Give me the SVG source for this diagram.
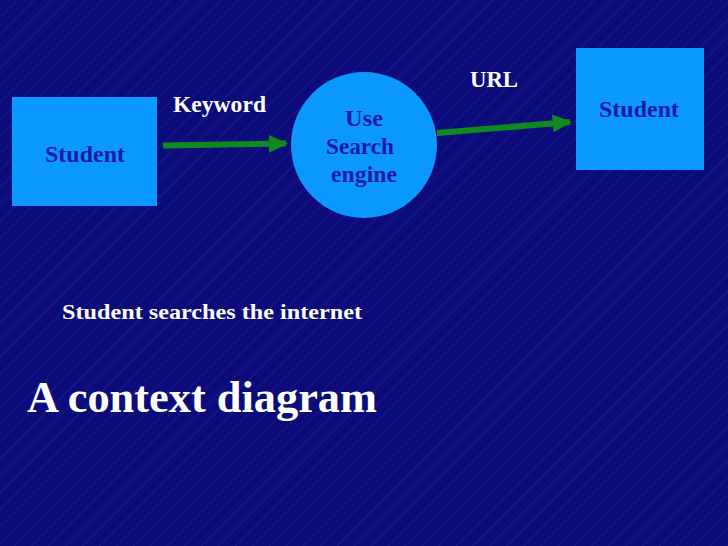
<svg xmlns="http://www.w3.org/2000/svg" width="728" height="546" viewBox="0 0 728 546">
  <defs>
    <pattern id="stripes" width="12" height="12" patternUnits="userSpaceOnUse" patternTransform="rotate(-45)">
      <line x1="0" y1="0" x2="12" y2="0" stroke="#6a6ae0" stroke-width="0.7" stroke-opacity="0.4"/>
    </pattern>
    <marker id="arrow" viewBox="0 0 10 10" refX="9" refY="5" markerWidth="3.2" markerHeight="3" orient="auto" markerUnits="strokeWidth" preserveAspectRatio="none">
      <path d="M0,0 L10,5 L0,10 z" fill="#0e8a1e"/>
    </marker>
  </defs>
  <style>
    .node { fill: #0a98ff; }
    .ntext { font-family: "Liberation Serif", "Times New Roman", serif; font-weight: bold; font-size: 23px; fill: #1a1aa6; }
    .label { font-family: "Liberation Serif", "Times New Roman", serif; font-weight: bold; fill: #ffffff; }
    .flow { stroke: #0e8a1e; stroke-width: 6; fill: none; marker-end: url(#arrow); }
  </style>
  <rect x="0" y="0" width="728" height="546" fill="#0b0b7a"/>
  <rect x="0" y="0" width="728" height="546" fill="url(#stripes)"/>

  <g id="student-left">
    <rect class="node" x="12" y="97" width="145" height="109"/>
    <text class="ntext" x="45" y="162" textLength="80" lengthAdjust="spacingAndGlyphs">Student</text>
  </g>
  <g id="search-engine">
    <circle class="node" cx="364" cy="145" r="73"/>
    <text class="ntext" x="345" y="126" textLength="38" lengthAdjust="spacingAndGlyphs">Use</text>
    <text class="ntext" x="326" y="154" textLength="68" lengthAdjust="spacingAndGlyphs">Search</text>
    <text class="ntext" x="331" y="182" textLength="66" lengthAdjust="spacingAndGlyphs">engine</text>
  </g>
  <g id="student-right">
    <rect class="node" x="576" y="48" width="128" height="122"/>
    <text class="ntext" x="599" y="117" textLength="80" lengthAdjust="spacingAndGlyphs">Student</text>
  </g>

  <g id="connectors">
    <line class="flow" x1="163" y1="145.5" x2="286" y2="143.5"/>
    <line class="flow" x1="437" y1="133" x2="570" y2="122"/>
    <text class="label" x="173" y="112" font-size="23" textLength="93" lengthAdjust="spacingAndGlyphs">Keyword</text>
    <text class="label" x="470" y="87" font-size="23" textLength="48" lengthAdjust="spacingAndGlyphs">URL</text>
  </g>

  <text class="label" x="62" y="319" font-size="22" textLength="300" lengthAdjust="spacingAndGlyphs">Student searches the internet</text>
  <text class="label" x="27" y="412" font-size="44" textLength="350" lengthAdjust="spacingAndGlyphs">A context diagram</text>
</svg>
